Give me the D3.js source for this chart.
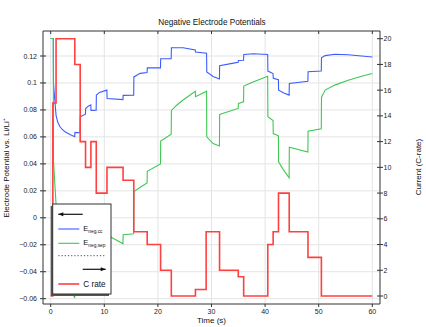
<!DOCTYPE html>
<html><head><meta charset="utf-8">
<script src="https://cdn.jsdelivr.net/npm/d3@7"></script>
<style>
html,body{margin:0;padding:0;background:#fff;}
svg{display:block;font-family:"Liberation Sans",Arial,sans-serif;}
</style></head>
<body><svg id="c" width="426" height="327"></svg>
<script>
// ---- data ----
const cTimes = [0,0.4,1.0,4.5,5.5,6.5,7.5,8.5,10.5,13.5,15.5,18,20.5,22.5,27,29,31.5,35,36,40.5,41.5,42.5,44.5,48,50.5,60];
const cRate  = [0,15,20,18,12,10,12,8,10,9,5,4,2,0,0.5,5,2,1.5,0,4,5,8,5,3,0,0];

const negCcTime  = [0,0.48,0.52,0.65,1.0,1.3,1.73,2.2,2.67,3.6,4.48,4.52,5.48,5.52,6.48,6.52,7.0,7.48,7.52,8.48,8.52,9.1,10.48,10.52,13.48,13.52,15.48,15.52,16.7,17.98,18.02,20.48,20.52,22.48,22.52,24.7,26.98,27.02,29.08,29.12,30.3,31.48,31.52,34.1,34.98,35.02,35.98,36.02,37.8,40.48,40.52,41.48,41.52,42.48,42.52,43.5,44.48,44.52,47.98,48.02,50.48,50.52,51.2,53,55.5,60];
const negCcValue = [0.133,0.133,0.1,0.093,0.076,0.071,0.0675,0.0654,0.0638,0.0618,0.0601,0.0633,0.0631,0.0749,0.0768,0.081,0.0828,0.0838,0.0797,0.0798,0.091,0.093,0.0947,0.0885,0.0877,0.0908,0.091,0.1045,0.1071,0.1078,0.1112,0.1112,0.118,0.118,0.1261,0.1261,0.1245,0.123,0.122,0.1082,0.1048,0.103,0.1128,0.1147,0.1154,0.1167,0.1168,0.1211,0.1217,0.1211,0.1088,0.107,0.1035,0.1025,0.0947,0.0925,0.091,0.0996,0.1012,0.1083,0.1088,0.1187,0.1203,0.1213,0.1209,0.1193];

const negSepTime  = [0,0.48,0.52,1.0,1.05,1.5,2.2,3.0,3.8,4.48,4.52,5.48,5.52,6.48,6.52,7.48,7.52,8.48,8.52,10.48,10.52,11.3,13.48,13.52,15.48,15.52,16.7,17.98,18.02,20.48,20.52,22.48,22.52,23.5,24.5,26.98,27.02,29.08,29.12,30.3,31.48,31.52,34.98,35.02,35.98,36.02,37,38.1,40.48,40.52,41.48,41.52,42.48,42.52,43.3,44.48,44.52,47.98,48.02,50.48,50.52,51.2,53,55.5,58,60];
const negSepValue = [0.133,0.133,0.042,0.01,0.0,-0.012,-0.028,-0.042,-0.052,-0.0595,-0.055,-0.057,-0.032,-0.034,-0.024,-0.022,-0.034,-0.035,-0.012,-0.009,-0.013,-0.0144,-0.0193,-0.0126,-0.0119,0.0195,0.0227,0.0258,0.0345,0.040,0.057,0.062,0.0796,0.0835,0.0868,0.0939,0.0898,0.0939,0.0601,0.0551,0.0533,0.0766,0.0811,0.0848,0.086,0.0977,0.0995,0.1013,0.105,0.0749,0.0722,0.0625,0.0608,0.0415,0.0363,0.0297,0.0524,0.0487,0.0642,0.066,0.0895,0.0947,0.0984,0.102,0.105,0.107];

const xTicks = [0,10,20,30,40,50,60];
const xTickLabels = ["0","10","20","30","40","50","60"];
const yLTicks = [-0.06,-0.04,-0.02,0,0.02,0.04,0.06,0.08,0.1,0.12];
const yLTickLabels = ["\u22120.06","\u22120.04","\u22120.02","0","0.02","0.04","0.06","0.08","0.1","0.12"];
const yRTicks = [0,2,4,6,8,10,12,14,16,18,20];
const yRTickLabels = ["0","2","4","6","8","10","12","14","16","18","20"];

const titleText = "Negative Electrode Potentials";
const xLabel = "Time (s)";
const yLLabel = "Electrode Potential vs. Li/Li\u207A";
const yRLabel = "Current (C-rate)";

// ---- layout ----
const P = {l:43, r:380, t:31, b:304};
const x  = d3.scaleLinear().domain([0,60]).range([50.7,372.3]);
const yL = d3.scaleLinear().domain([-0.06,0.12]).range([298.7,56]);
const yR = d3.scaleLinear().domain([0,20]).range([296,38.7]);

const svg = d3.select("#c");
const BLUE="#3d5cff", GREEN="#3fc853", RED="#ff4040", AX="#333";

svg.append("defs").append("clipPath").attr("id","clip")
  .append("rect").attr("x",P.l).attr("y",P.t).attr("width",P.r-P.l).attr("height",P.b-P.t);

// grid
const grid = svg.append("g").attr("stroke","#e4e4e4").attr("stroke-width",1);
xTicks.forEach(t=>grid.append("line").attr("x1",x(t)).attr("x2",x(t)).attr("y1",P.t).attr("y2",P.b));
yLTicks.forEach(v=>grid.append("line").attr("x1",P.l).attr("x2",P.r).attr("y1",yL(v)).attr("y2",yL(v)));

// lines
const gl = svg.append("g").attr("clip-path","url(#clip)").attr("fill","none");
const ccData = negCcTime.map((t,i)=>[t,negCcValue[i]]);
const sepData = negSepTime.map((t,i)=>[t,negSepValue[i]]);
const cData = cTimes.map((t,i)=>[t,cRate[i]]);
gl.append("path").attr("d",d3.line().x(d=>x(d[0])).y(d=>yL(d[1]))(ccData)).attr("stroke",BLUE).attr("stroke-width",1.1);
gl.append("path").attr("d",d3.line().x(d=>x(d[0])).y(d=>yL(d[1]))(sepData)).attr("stroke",GREEN).attr("stroke-width",1.1);
gl.append("path").attr("d",d3.line().curve(d3.curveStepAfter).x(d=>x(d[0])).y(d=>yR(d[1]))(cData)).attr("stroke",RED).attr("stroke-width",1.6);

// axes
const ax = svg.append("g").attr("stroke",AX).attr("stroke-width",1).attr("fill","none");
ax.append("line").attr("x1",P.l).attr("x2",P.l).attr("y1",P.t).attr("y2",P.b);
ax.append("line").attr("x1",P.l).attr("x2",P.r).attr("y1",P.b).attr("y2",P.b);
ax.append("line").attr("x1",P.l).attr("x2",P.r).attr("y1",P.t).attr("y2",P.t);
ax.append("line").attr("x1",P.r).attr("x2",P.r).attr("y1",P.t).attr("y2",P.b);
xTicks.forEach(t=>{
  ax.append("line").attr("x1",x(t)).attr("x2",x(t)).attr("y1",P.b).attr("y2",P.b+3);
  ax.append("line").attr("x1",x(t)).attr("x2",x(t)).attr("y1",P.t).attr("y2",P.t+3);
});
yLTicks.forEach(v=>ax.append("line").attr("x1",P.l-3).attr("x2",P.l+3).attr("y1",yL(v)).attr("y2",yL(v)));
yRTicks.forEach(v=>ax.append("line").attr("x1",P.r-3).attr("x2",P.r+3).attr("y1",yR(v)).attr("y2",yR(v)));

const tx = svg.append("g").attr("fill","#222").attr("font-size",7);
xTicks.forEach((t,i)=>tx.append("text").attr("x",x(t)).attr("y",314).attr("text-anchor","middle").text(xTickLabels[i]));
yLTicks.forEach((v,i)=>tx.append("text").attr("x",37).attr("y",yL(v)+2.5).attr("text-anchor","end").text(yLTickLabels[i]));
yRTicks.forEach((v,i)=>tx.append("text").attr("x",383.5).attr("y",yR(v)+2.5).attr("text-anchor","start").text(yRTickLabels[i]));

svg.append("text").attr("x",212).attr("y",24.5).attr("text-anchor","middle").attr("font-size",8.2).attr("fill","#111").text(titleText);
svg.append("text").attr("x",211.5).attr("y",323).attr("text-anchor","middle").attr("font-size",8).attr("fill","#111").text(xLabel);
svg.append("text").attr("transform","translate(8.5,168) rotate(-90)").attr("text-anchor","middle").attr("font-size",8).attr("fill","#111").text(yLLabel);
svg.append("text").attr("transform","translate(421,167) rotate(-90)").attr("text-anchor","middle").attr("font-size",8).attr("fill","#111").text(yRLabel);

// legend
const lg = svg.append("g");
lg.append("rect").attr("x",50.7).attr("y",206).attr("width",58.3).attr("height",90).attr("fill","#555");
lg.append("rect").attr("x",52.7).attr("y",204).attr("width",58.3).attr("height",90).attr("fill","#fff").attr("stroke","#333").attr("stroke-width",1);
function arrow(x1,x2,y,dir){
  lg.append("line").attr("x1",x1).attr("x2",x2).attr("y1",y).attr("y2",y).attr("stroke","#111").attr("stroke-width",1.2);
  const tip = dir<0?x1:x2, b = tip - dir*5;
  lg.append("path").attr("d",`M${tip},${y}L${b},${y-2}L${b},${y+2}Z`).attr("fill","#111");
}
arrow(58.3,82.7,214.3,-1);
lg.append("line").attr("x1",58.3).attr("x2",79.3).attr("y1",229).attr("y2",229).attr("stroke",BLUE).attr("stroke-width",1.1);
lg.append("line").attr("x1",58.3).attr("x2",79.3).attr("y1",243.3).attr("y2",243.3).attr("stroke",GREEN).attr("stroke-width",1.1);
lg.append("line").attr("x1",58.3).attr("x2",105).attr("y1",255.7).attr("y2",255.7).attr("stroke","#333").attr("stroke-width",0.9).attr("stroke-dasharray","1.2,2");
arrow(82.7,105.7,269.3,1);
lg.append("line").attr("x1",58.3).attr("x2",79.3).attr("y1",284).attr("y2",284).attr("stroke",RED).attr("stroke-width",1.6);
function subLabel(y,main,sub){
  const t = lg.append("text").attr("x",83.3).attr("y",y).attr("font-size",7.5).attr("fill","#111");
  t.append("tspan").text(main);
  t.append("tspan").attr("font-size",4.8).attr("dy",2).text(sub);
}
subLabel(231,"E","neg,cc");
subLabel(245.3,"E","neg,sep");
lg.append("text").attr("x",83.3).attr("y",287.3).attr("font-size",8.2).attr("fill","#111").text("C rate");
</script></body></html>
